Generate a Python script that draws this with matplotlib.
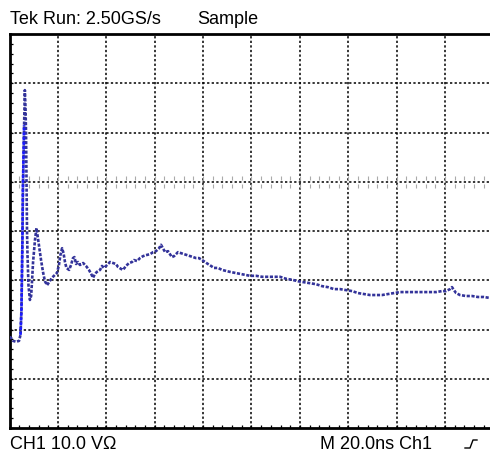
import numpy as np
import matplotlib.pyplot as plt
from matplotlib.lines import Line2D

# CH1 trace, time in ns (20 ns/div), amplitude in V (10 V/div, 0 = marked line)
t_ns = [0.0, 0.6, 1.4, 2.7, 3.9, 4.5, 4.9, 5.1, 5.3, 5.5, 5.8, 6.0, 6.3, 6.6, 6.8,
        7.0, 7.2, 7.4, 7.8, 8.4, 8.9, 9.3, 9.7, 10.5, 11.1, 11.7, 12.4, 13.0, 13.8,
        14.6, 15.5, 16.3, 17.5, 18.8, 19.6, 20.4, 21.0, 21.7, 22.3, 22.9, 23.5, 24.6,
        25.4, 26.2, 26.8, 27.5, 28.3, 29.1, 30.4, 31.6, 32.8, 33.7, 34.5, 35.3, 36.1,
        37.4, 38.2, 39.0, 40.3, 41.5, 42.8, 44.0, 44.8, 46.1, 46.9, 48.1, 49.4, 50.6,
        51.4, 52.7, 53.9, 55.2, 56.4, 58.1, 59.3, 60.5, 61.8, 62.6, 63.4, 64.3, 65.5,
        66.3, 67.1, 68.0, 68.8, 69.6, 70.9, 72.1, 73.4, 74.6, 75.8, 77.1, 78.3, 79.6,
        80.8, 82.0, 83.3, 84.5, 86.2, 87.8, 89.5, 91.1, 93.2, 95.3, 97.3, 99.4, 101.9,
        104.4, 106.8, 109.3, 111.8, 114.3, 116.8, 119.2, 121.7, 124.2, 126.7, 129.2,
        131.6, 134.1, 136.6, 139.1, 141.6, 144.0, 146.5, 149.0, 151.5, 154.0, 156.4,
        158.9, 161.4, 163.9, 166.4, 168.8, 171.3, 173.8, 176.3, 178.8, 180.4, 182.1,
        182.9, 183.7, 184.6, 186.2, 188.7, 191.2, 193.6, 196.1, 198.6]
v_ch1 = [-31.5, -31.7, -32.3, -32.5, -32.3, -31.1, -26.0, -19.3, -11.8, -1.7, 6.5,
         11.5, 18.6, 14.6, 9.5, 0.4, -9.8, -14.9, -21.0, -24.0, -23.2, -20.0, -16.3,
         -11.8, -9.4, -11.4, -13.9, -15.9, -18.3, -20.2, -21.0, -20.4, -19.5, -18.9,
         -18.5, -16.9, -14.9, -13.5, -14.5, -16.3, -17.5, -17.9, -16.9, -15.5, -15.3,
         -16.7, -16.3, -16.9, -16.5, -17.1, -17.9, -18.7, -19.5, -18.7, -18.3, -17.9,
         -17.1, -17.5, -16.9, -16.3, -16.5, -16.7, -17.3, -17.7, -17.9, -17.1, -16.5,
         -16.3, -15.9, -16.1, -15.5, -15.1, -14.9, -14.7, -14.3, -14.1, -13.5, -12.8,
         -13.5, -14.3, -14.1, -14.7, -15.3, -15.1, -14.7, -14.3, -14.5, -14.7, -14.9,
         -15.1, -15.3, -15.5, -15.5, -15.9, -16.3, -16.7, -17.1, -17.5, -17.5, -17.9,
         -18.1, -18.3, -18.5, -18.7, -18.9, -19.1, -19.1, -19.3, -19.3, -19.3, -19.3,
         -19.7, -19.9, -20.2, -20.4, -20.6, -20.8, -21.2, -21.4, -21.8, -21.8, -22.0,
         -22.2, -22.6, -22.8, -23.0, -23.0, -23.0, -22.8, -22.6, -22.4, -22.4, -22.4,
         -22.4, -22.4, -22.4, -22.4, -22.2, -22.2, -21.8, -21.4, -22.0, -22.6, -23.0,
         -23.2, -23.2, -23.4, -23.4, -23.6]

t_div, v_div = 20.0, 10.0
n_x = 10
v_lo, v_hi = -50.0, 30.0

fig = plt.figure(figsize=(4.9, 4.59), dpi=100)
plt.rcParams['font.family'] = ['Liberation Sans', 'DejaVu Sans']
ax = fig.add_axes([9.6 / 490, 31 / 459, 483.75 / 490, 394 / 459])
ax.set_xlim(0, n_x * t_div)
ax.set_ylim(v_lo, v_hi)

# graticule
for i in range(1, n_x):
    ax.axvline(i * t_div, color='black', lw=1.1, ls=(0, (1.5, 1.5)), zorder=1)
for v0 in np.arange(v_lo + v_div, v_hi, v_div):
    ax.axhline(v0, color='black', lw=1.1, ls=(0, (1.5, 1.5)), zorder=1)

# small grey marks along the zero line
mx = np.arange(0, n_x * t_div + 0.1, t_div / 5)
off_y = 0.085 * v_div
ax.scatter(mx, np.full_like(mx, off_y), marker='|', s=6, color='#aaaaaa', lw=0.8, zorder=1)
ax.scatter(mx, np.full_like(mx, -off_y), marker='|', s=6, color='#aaaaaa', lw=0.8, zorder=1)

# frame ticks
my = np.arange(v_lo, v_hi + 0.1, v_div / 5)
ax.set_xticks([])
ax.set_yticks([])
ax.set_xticks(mx, minor=True)
ax.set_yticks(my, minor=True)
ax.tick_params(which='minor', direction='in', length=2.5, width=0.9, color='black',
               labelbottom=False, labelleft=False)
for s in ['top', 'left', 'bottom']:
    ax.spines[s].set_linewidth(2.0)
ax.spines['right'].set_visible(False)

# trace: fast rising edge shows brighter
t = np.array(t_ns)
v = np.array(v_ch1)
ax.plot(t, v, color='#33339a', lw=1.9, ls=(0, (1.2, 0.6)), zorder=3)
ax.plot(t[5:12], v[5:12], color='#1a1aff', lw=1.9, ls=(0, (1.2, 0.6)), zorder=4)

# status text
fig.text(10 / 490, 1 - 24 / 459, 'Tek Run: 2.50GS/s', fontsize=13, va='baseline')
fig.text(197 / 490, 1 - 24 / 459, 'Sample', fontsize=13, va='baseline')
fig.text(10 / 490, 1 - 449 / 459, 'CH1 10.0 V\u03a9', fontsize=13, va='baseline')
fig.text(320 / 490, 1 - 449 / 459, 'M 20.0ns Ch1', fontsize=13, va='baseline')
trig_x = np.array([465, 470, 473, 477]) / 490
trig_y = 1 - np.array([448, 448, 440, 440]) / 459
fig.add_artist(Line2D(trig_x, trig_y, color='black', lw=1.0))

fig.savefig('out.png', dpi=100)
